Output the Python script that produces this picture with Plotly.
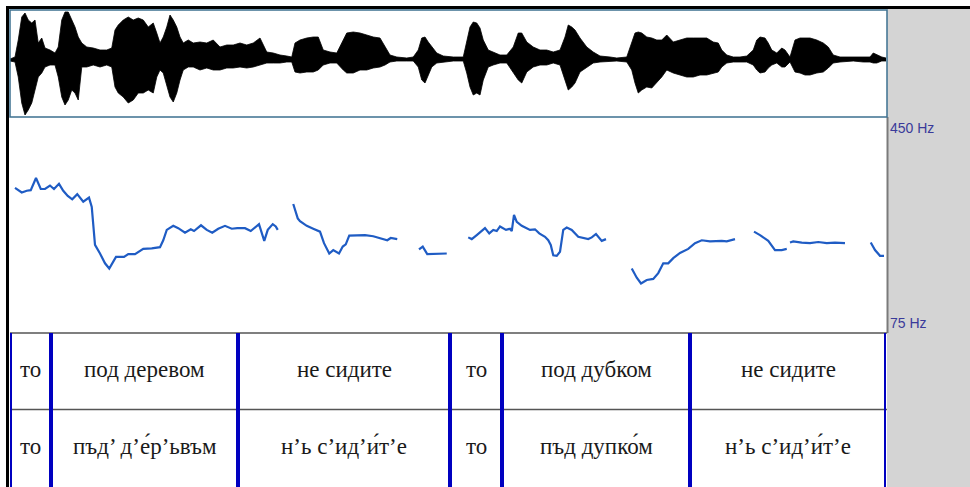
import plotly.graph_objects as go

# ---------------- data ----------------
# waveform envelope (time s, upper amplitude, lower amplitude)
wave_t = [0.000, 0.020, 0.033, 0.047, 0.060, 0.073, 0.087, 0.100, 0.113, 0.127, 0.140, 0.160, 0.180, 0.193,
          0.207, 0.220, 0.233, 0.247, 0.260, 0.273, 0.287, 0.307, 0.333, 0.360, 0.387, 0.407, 0.420, 0.433,
          0.453, 0.473, 0.493, 0.513, 0.533, 0.553, 0.573, 0.587, 0.600, 0.613, 0.627, 0.640, 0.653, 0.667,
          0.680, 0.693, 0.713, 0.733, 0.760, 0.787, 0.813, 0.840, 0.867, 0.893, 0.920, 0.947, 0.973, 1.000,
          1.027, 1.053, 1.080, 1.107, 1.127, 1.140, 1.160, 1.187, 1.213, 1.233, 1.253, 1.280, 1.307, 1.333,
          1.347, 1.373, 1.400, 1.427, 1.453, 1.480, 1.500, 1.520, 1.547, 1.587, 1.613, 1.633, 1.647, 1.660,
          1.673, 1.687, 1.707, 1.733, 1.773, 1.813, 1.827, 1.840, 1.853, 1.867, 1.880, 1.893, 1.913, 1.933,
          1.960, 1.987, 2.013, 2.033, 2.047, 2.067, 2.093, 2.120, 2.147, 2.173, 2.200, 2.220, 2.233, 2.247,
          2.260, 2.280, 2.307, 2.333, 2.360, 2.400, 2.427, 2.467, 2.487, 2.500, 2.513, 2.527, 2.547, 2.567,
          2.587, 2.607, 2.627, 2.653, 2.680, 2.707, 2.733, 2.760, 2.787, 2.813, 2.833, 2.847, 2.867, 2.893,
          2.920, 2.947, 2.973, 2.987, 3.000, 3.020, 3.033, 3.047, 3.067, 3.087, 3.100, 3.120, 3.140, 3.160,
          3.180, 3.200, 3.227, 3.253, 3.273, 3.293, 3.320, 3.373, 3.413, 3.440, 3.453, 3.467, 3.487, 3.504]
wave_top = [0.02, 0.06, 0.40, 0.86, 0.94, 0.80, 0.74, 0.80, 0.34, 0.44, 0.24, 0.20, 0.14, 0.26,
            0.80, 0.96, 0.96, 0.80, 0.66, 0.46, 0.34, 0.26, 0.24, 0.20, 0.20, 0.24, 0.60, 0.70,
            0.80, 0.86, 0.80, 0.84, 0.80, 0.66, 0.74, 0.54, 0.34, 0.46, 0.66, 0.90, 0.80, 0.66,
            0.46, 0.34, 0.40, 0.34, 0.36, 0.34, 0.40, 0.26, 0.30, 0.30, 0.34, 0.30, 0.34, 0.44,
            0.16, 0.14, 0.10, 0.08, 0.06, 0.34, 0.40, 0.44, 0.46, 0.46, 0.20, 0.16, 0.14, 0.40,
            0.54, 0.56, 0.54, 0.50, 0.46, 0.44, 0.26, 0.10, 0.06, 0.04, 0.06, 0.20, 0.44, 0.46,
            0.36, 0.26, 0.14, 0.08, 0.06, 0.06, 0.34, 0.66, 0.76, 0.74, 0.64, 0.40, 0.20, 0.16,
            0.10, 0.10, 0.26, 0.54, 0.54, 0.36, 0.26, 0.20, 0.20, 0.16, 0.20, 0.46, 0.70, 0.66,
            0.60, 0.44, 0.26, 0.16, 0.08, 0.06, 0.04, 0.06, 0.34, 0.54, 0.56, 0.54, 0.46, 0.44,
            0.40, 0.40, 0.50, 0.36, 0.40, 0.44, 0.44, 0.44, 0.44, 0.36, 0.34, 0.20, 0.10, 0.06,
            0.06, 0.08, 0.20, 0.40, 0.46, 0.44, 0.34, 0.20, 0.14, 0.24, 0.20, 0.06, 0.40, 0.44,
            0.44, 0.44, 0.40, 0.34, 0.26, 0.10, 0.06, 0.06, 0.06, 0.06, 0.14, 0.10, 0.06, 0.04]
wave_bot = [-0.02, -0.04, -0.34, -0.86, -1.10, -1.00, -0.86, -0.60, -0.34, -0.26, -0.14, -0.10, -0.10, -0.34,
            -0.74, -0.90, -0.80, -0.60, -0.66, -0.80, -0.14, -0.14, -0.10, -0.14, -0.10, -0.14, -0.54, -0.66,
            -0.74, -0.86, -0.80, -0.66, -0.66, -0.60, -0.66, -0.34, -0.20, -0.26, -0.54, -0.74, -0.84, -0.66,
            -0.40, -0.20, -0.14, -0.14, -0.20, -0.16, -0.20, -0.20, -0.16, -0.16, -0.14, -0.16, -0.14, -0.10,
            -0.06, -0.06, -0.06, -0.04, -0.04, -0.24, -0.26, -0.24, -0.24, -0.20, -0.10, -0.06, -0.06, -0.20,
            -0.26, -0.26, -0.20, -0.20, -0.16, -0.14, -0.10, -0.04, -0.02, -0.02, -0.02, -0.14, -0.40, -0.46,
            -0.30, -0.14, -0.06, -0.04, -0.02, -0.02, -0.26, -0.54, -0.70, -0.66, -0.70, -0.40, -0.14, -0.10,
            -0.06, -0.06, -0.26, -0.40, -0.46, -0.24, -0.14, -0.10, -0.10, -0.06, -0.10, -0.40, -0.60, -0.54,
            -0.46, -0.24, -0.14, -0.06, -0.04, -0.02, -0.02, -0.04, -0.20, -0.46, -0.66, -0.60, -0.54, -0.56,
            -0.46, -0.34, -0.20, -0.26, -0.30, -0.34, -0.34, -0.30, -0.30, -0.26, -0.24, -0.14, -0.06, -0.04,
            -0.04, -0.04, -0.10, -0.20, -0.26, -0.24, -0.16, -0.10, -0.06, -0.14, -0.14, -0.04, -0.24, -0.26,
            -0.30, -0.30, -0.26, -0.24, -0.16, -0.06, -0.04, -0.02, -0.04, -0.04, -0.06, -0.06, -0.02, -0.02]

# pitch contour (time s, F0 Hz); None marks unvoiced gaps
pitch_t = [0.020, 0.047, 0.067, 0.083, 0.104, 0.123, 0.140, 0.160, 0.176, 0.196, 0.213, 0.231, 0.249, 0.269,
           0.293, 0.316, 0.327, 0.333, 0.340, 0.360, 0.380, 0.397, 0.424, 0.456, 0.473, 0.500, 0.533, 0.567,
           0.600, 0.613, 0.627, 0.653, 0.673, 0.700, 0.723, 0.736, 0.764, 0.787, 0.809, 0.833, 0.860, 0.887,
           0.909, 0.940, 0.963, 0.996, 1.009, 1.017, 1.031, 1.051, 1.063, 1.071, None,
           1.133, 1.151, 1.160, 1.187, 1.213, 1.240, 1.256, 1.277, 1.293, 1.316, 1.331, 1.343, 1.357, 1.387,
           1.420, 1.453, 1.487, 1.509, 1.523, 1.549, None,
           1.636, 1.651, 1.669, 1.700, 1.747, None,
           1.833, 1.847, 1.867, 1.900, 1.917, 1.933, 1.947, 1.960, 1.984, 2.000, 2.007, 2.016, 2.027, 2.047,
           2.080, 2.100, 2.117, 2.140, 2.153, 2.163, 2.173, 2.187, 2.200, 2.213, 2.227, 2.247, 2.273, 2.293,
           2.313, 2.327, 2.344, 2.367, 2.384, None,
           2.487, 2.507, 2.524, 2.547, 2.573, 2.593, 2.613, 2.633, 2.653, 2.680, 2.713, 2.740, 2.767, 2.800,
           2.847, 2.867, 2.900, None,
           2.976, 3.000, 3.033, 3.060, 3.087, 3.107, None,
           3.120, 3.133, 3.167, 3.200, 3.233, 3.267, 3.300, 3.340, None,
           3.443, 3.460, 3.480, 3.496]
pitch_hz = [327, 319, 322, 323, 344, 325, 325, 331, 325, 334, 322, 313, 307, 316,
            303, 310, 294, 260, 228, 213, 196, 187, 207, 207, 212, 212, 221, 222,
            224, 236, 254, 261, 257, 249, 255, 252, 262, 254, 249, 256, 261, 256,
            257, 257, 252, 264, 245, 235, 254, 264, 260, 254, None,
            299, 274, 269, 261, 256, 251, 231, 213, 219, 213, 225, 229, 244, 244,
            245, 243, 239, 236, 240, 238, None,
            220, 225, 212, 212, 213, None,
            241, 238, 245, 257, 248, 254, 252, 260, 254, 256, 252, 280, 268, 261,
            254, 255, 248, 242, 236, 228, 210, 209, 216, 254, 258, 254, 242, 240,
            238, 241, 247, 235, 238, None,
            187, 171, 161, 167, 169, 179, 196, 196, 205, 214, 221, 231, 236, 234,
            235, 234, 238, None,
            251, 245, 235, 219, 219, 221, None,
            232, 234, 232, 231, 233, 231, 232, 231, None,
            232, 219, 209, 209]

# interval tiers
tier_bounds = [0.0, 0.164, 0.912, 1.760, 1.968, 2.720, 3.504]
tier1_labels = ["то", "под деревом", "не сидите", "то", "под дубком", "не сидите"]
tier2_labels = ["то", "пъд’ д’е́р’ьвъм", "н’ь с’ид’и́т’е", "то", "пъд дупко́м", "н’ь с’ид’и́т’е"]

f0_range = [75, 450]
duration = 3.504

# ---------------- layout geometry ----------------
W, H = 970, 487
def px(x):
    return x / W
def py(y):
    return 1 - y / H

fig = go.Figure()

fig.add_trace(go.Scatter(x=wave_t, y=wave_top, mode="lines", line=dict(color="black", width=0.8),
                         xaxis="x", yaxis="y", hoverinfo="skip", showlegend=False))
fig.add_trace(go.Scatter(x=wave_t, y=wave_bot, mode="lines", line=dict(color="black", width=0.8),
                         fill="tonexty", fillcolor="black",
                         xaxis="x", yaxis="y", hoverinfo="skip", showlegend=False))

fig.add_trace(go.Scatter(x=pitch_t, y=pitch_hz, mode="lines", connectgaps=False,
                         line=dict(color="#1f5cc4", width=2.2),
                         xaxis="x", yaxis="y2", showlegend=False))

shapes = []
# gray right panel
shapes.append(dict(type="rect", xref="paper", yref="paper", x0=px(887), x1=1, y0=0, y1=py(9),
                   fillcolor="#d4d4d4", line=dict(width=0), layer="below"))
# gray panel left edge in pitch area
shapes.append(dict(type="line", xref="paper", yref="paper", x0=px(887.5), x1=px(887.5), y0=py(333), y1=py(117),
                   line=dict(color="#7a7a7a", width=2)))
# waveform box
shapes.append(dict(type="rect", xref="paper", yref="paper", x0=px(10), x1=px(887), y0=py(117), y1=py(10),
                   line=dict(color="#3d7090", width=1.5)))
# tier horizontal lines
for yy in (333, 409.5):
    shapes.append(dict(type="line", xref="paper", yref="paper", x0=px(10), x1=px(887), y0=py(yy), y1=py(yy),
                       line=dict(color="#555555", width=1.5)))
# tier boundaries
for b in tier_bounds:
    shapes.append(dict(type="line", xref="x", yref="paper", x0=b, x1=b, y0=0, y1=py(333),
                       line=dict(color="#0000c0", width=4)))
# outer frame
shapes.append(dict(type="line", xref="paper", yref="paper", x0=px(7.5), x1=px(7.5), y0=0, y1=py(6),
                   line=dict(color="black", width=3)))
shapes.append(dict(type="line", xref="paper", yref="paper", x0=px(6), x1=1, y0=py(7.5), y1=py(7.5),
                   line=dict(color="black", width=3)))

annotations = []
for i, lab in enumerate(tier1_labels):
    mid = (tier_bounds[i] + tier_bounds[i + 1]) / 2
    annotations.append(dict(x=mid, y=py(371), xref="x", yref="paper", text=lab, showarrow=False,
                            yshift=-13,
                            font=dict(family="Liberation Serif", size=23, color="#1a1a1a")))
for i, lab in enumerate(tier2_labels):
    mid = (tier_bounds[i] + tier_bounds[i + 1]) / 2
    annotations.append(dict(x=mid, y=py(448), xref="x", yref="paper", text=lab, showarrow=False,
                            yshift=-13,
                            font=dict(family="Liberation Serif", size=23, color="#1a1a1a")))
annotations.append(dict(x=px(888), y=f0_range[1], xref="paper", yref="y2", text="450 Hz", showarrow=False,
                        xanchor="left", yanchor="top", yshift=-1,
                        font=dict(family="Liberation Sans", size=14, color="#3a3a9a")))
annotations.append(dict(x=px(888), y=f0_range[0], xref="paper", yref="y2", text="75 Hz", showarrow=False,
                        xanchor="left", yanchor="bottom", yshift=0,
                        font=dict(family="Liberation Sans", size=14, color="#3a3a9a")))

fig.update_layout(
    width=W, height=H,
    margin=dict(l=0, r=0, t=0, b=0),
    paper_bgcolor="white", plot_bgcolor="rgba(0,0,0,0)",
    xaxis=dict(domain=[px(10), px(886)], range=[0, duration], visible=False, fixedrange=True),
    yaxis=dict(domain=[py(117), py(10)], range=[-1.14, 1.0], visible=False, anchor="x"),
    yaxis2=dict(domain=[py(333), py(117)], range=f0_range, visible=False, anchor="x"),
    shapes=shapes,
    annotations=annotations,
    showlegend=False,
)

fig.write_html("out.html", config={"displayModeBar": False},
               post_script="document.body.style.margin='0px';document.body.style.overflow='hidden';")
